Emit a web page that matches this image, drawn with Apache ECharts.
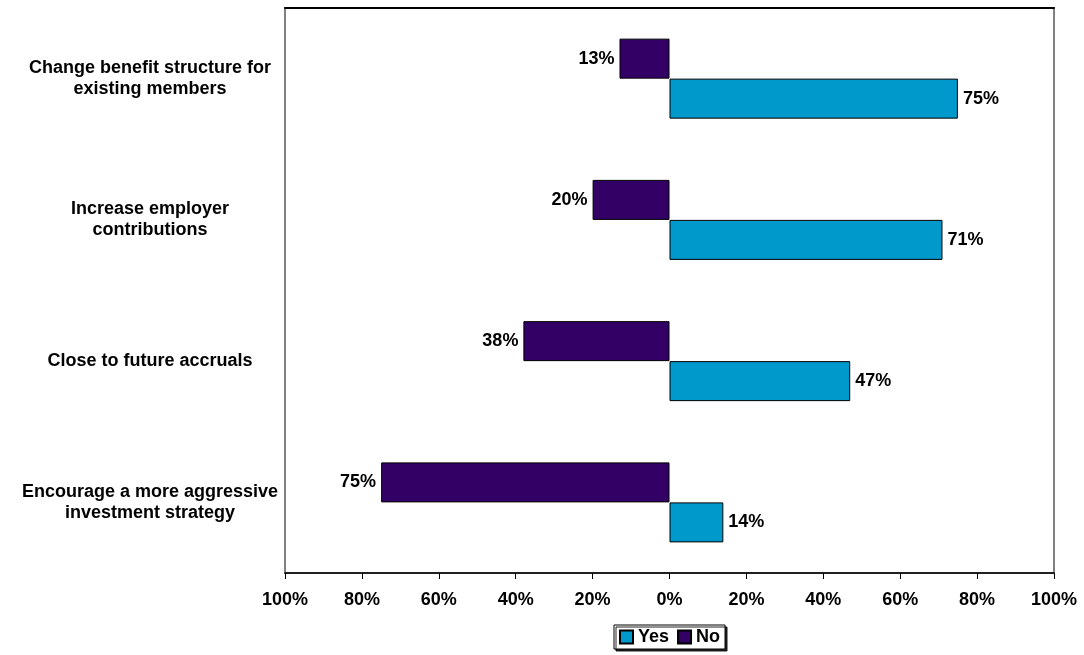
<!DOCTYPE html>
<html>
<head>
<meta charset="utf-8">
<script src="https://cdn.jsdelivr.net/npm/echarts@6/dist/echarts.min.js"></script>
<style>
  html, body { margin: 0; padding: 0; background: #fff; }
  #chart { width: 1084px; height: 655px; }
</style>
</head>
<body>
<div id="chart"></div>
<script>
// Survey responses per action, in percent
var categories = [
  'Change benefit structure for\nexisting members',
  'Increase employer\ncontributions',
  'Close to future accruals',
  'Encourage a more aggressive\ninvestment strategy'
];
var yesValues = [75, 71, 47, 14];
var noValues = [13, 20, 38, 75];
var tickValues = [-100, -80, -60, -40, -20, 0, 20, 40, 60, 80, 100];

var FONT = '"Liberation Sans", Arial, sans-serif';
var chart = echarts.init(document.getElementById('chart'), null, { renderer: 'canvas' });

function pct(v) { return Math.abs(v) + '%'; }

chart.setOption({
  animation: false,
  textStyle: { fontFamily: FONT },
  grid: { left: 285, right: 30, top: 8, bottom: 82, show: true, borderColor: '#808080', borderWidth: 2 },
  legend: {
    data: ['Yes', 'No'],
    icon: 'rect',
    bottom: 6,
    left: 614,
    itemWidth: 13,
    itemHeight: 13,
    itemGap: 8,
    padding: [3, 5, 3, 5],
    borderColor: '#000',
    borderWidth: 1,
    borderRadius: 0,
    backgroundColor: '#fff',
    shadowColor: 'rgba(0,0,0,0.85)',
    shadowOffsetX: 2,
    shadowOffsetY: 2,
    shadowBlur: 0,
    textStyle: { fontFamily: FONT, fontWeight: 'bold', fontSize: 18, color: '#000' }
  },
  xAxis: [{
    type: 'value',
    min: tickValues[0],
    max: tickValues[tickValues.length - 1],
    interval: 20,
    position: 'bottom',
    axisLine: { show: true, lineStyle: { color: '#000', width: 1.5 } },
    axisTick: { show: true, length: 6, lineStyle: { color: '#000' } },
    splitLine: { show: false },
    axisLabel: { formatter: pct, fontFamily: FONT, fontWeight: 'bold', fontSize: 18, color: '#000', margin: 18 }
  }, {
    type: 'value',
    min: tickValues[0],
    max: tickValues[tickValues.length - 1],
    position: 'top',
    axisLine: { show: true, lineStyle: { color: '#000', width: 2 } },
    axisTick: { show: false },
    axisLabel: { show: false },
    splitLine: { show: false }
  }],
  yAxis: {
    type: 'category',
    data: categories,
    inverse: true,
    axisLine: { show: false },
    axisTick: { show: false },
    axisLabel: {
      fontFamily: FONT, fontWeight: 'bold', fontSize: 18, color: '#000',
      align: 'center', margin: 135, lineHeight: 21
    }
  },
  series: [{
    name: 'No',
    type: 'bar',
    data: noValues.map(function (v) { return -v; }),
    barWidth: 40,
    barGap: '0%',
    itemStyle: { color: '#330066', borderColor: '#000', borderWidth: 1 },
    label: {
      show: true, position: 'left', distance: 5,
      formatter: function (p) { return pct(p.value); },
      fontFamily: FONT, fontWeight: 'bold', fontSize: 18, color: '#000'
    }
  }, {
    name: 'Yes',
    type: 'bar',
    data: yesValues,
    barWidth: 40,
    barGap: '0%',
    itemStyle: { color: '#0099CC', borderColor: '#000', borderWidth: 1 },
    label: {
      show: true, position: 'right', distance: 5,
      formatter: function (p) { return pct(p.value); },
      fontFamily: FONT, fontWeight: 'bold', fontSize: 18, color: '#000'
    }
  }]
});
</script>
</body>
</html>
